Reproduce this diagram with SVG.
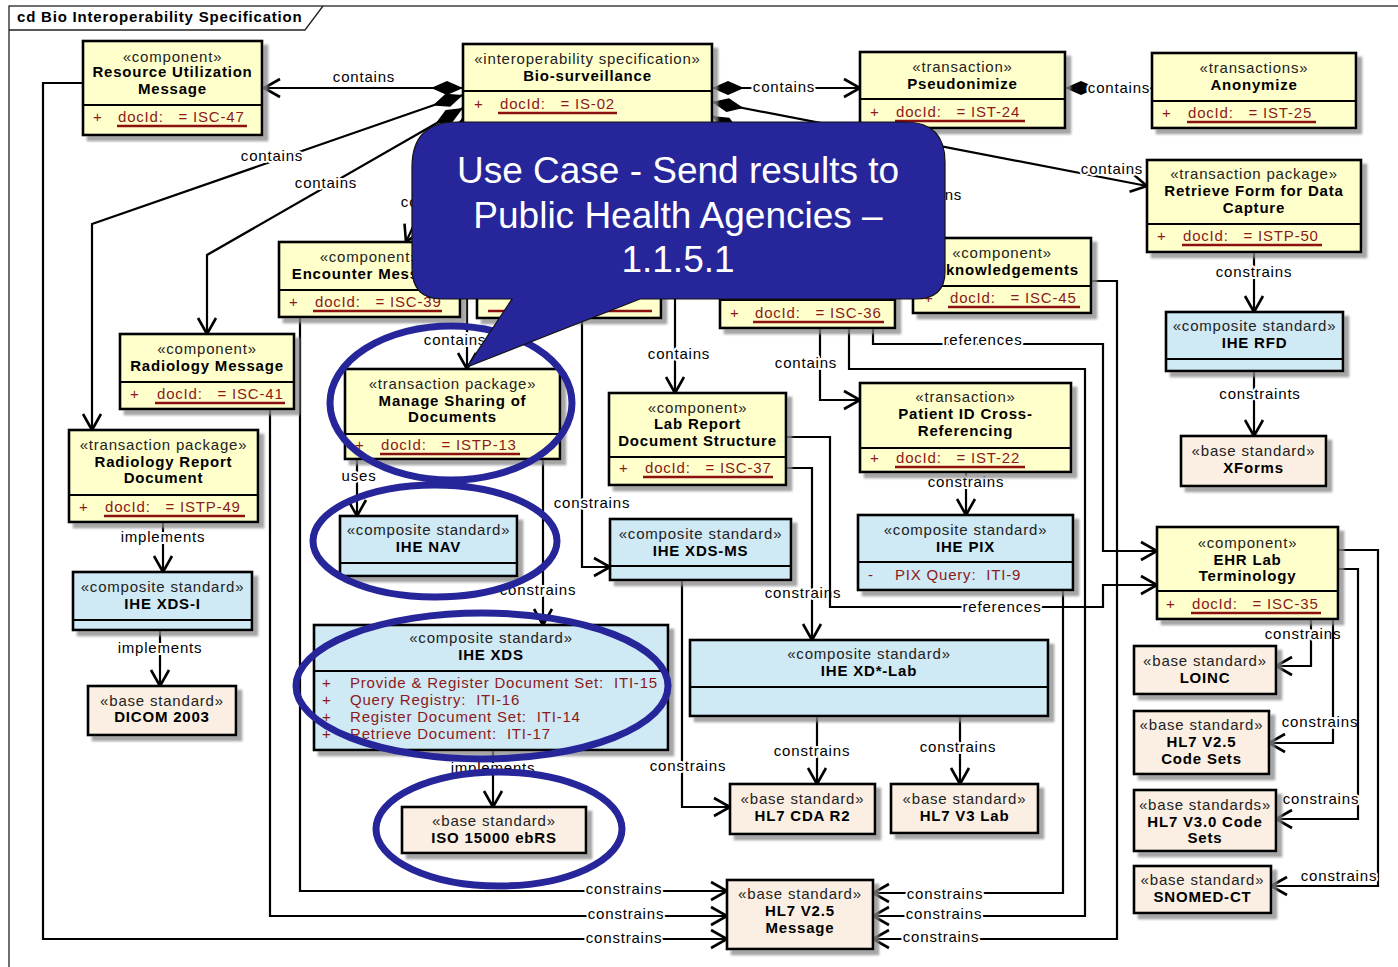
<svg xmlns="http://www.w3.org/2000/svg" width="1398" height="967" viewBox="0 0 1398 967">
  <style>
    text { font-family: "Liberation Sans", Arial, sans-serif; font-size: 15px; letter-spacing: 0.8px; }
    .box { stroke: #000; stroke-width: 2.6; filter: url(#sh); }
    .yel { fill: #ffffcc; }
    .blu { fill: #cfe9f5; }
    .bei { fill: #faefe2; }
    .dv { stroke: #000; stroke-width: 2.2; }
    .st { fill: #222; text-anchor: middle; }
    .nm { fill: #000; text-anchor: middle; font-weight: bold; }
    .at { fill: #8b1a1a; }
    .ul { stroke: #8b1010; stroke-width: 2.5; }
    .cn { fill: none; stroke: #000; stroke-width: 2.2; }
    .ar { marker-end: url(#arr); }
    .dm { marker-start: url(#dia); }
    .lb { fill: #000; text-anchor: middle; stroke: #fff; stroke-width: 4; paint-order: stroke; stroke-linejoin: round; }
    .ring { fill: none; stroke: #26269a; stroke-width: 7; }
    .callout { fill: #26269a; stroke: #111; stroke-width: 1.2; }
    .ct { fill: #fff; font-size: 37px; letter-spacing: 0; text-anchor: middle; }
  </style>
  <defs>
    <filter id="sh" x="-5%" y="-5%" width="120%" height="130%">
      <feDropShadow dx="5" dy="5" stdDeviation="1.2" flood-color="#888" flood-opacity="0.75"/>
    </filter>
    <marker id="arr" markerUnits="userSpaceOnUse" viewBox="-20 -12 24 24" markerWidth="24" markerHeight="24" refX="0" refY="0" orient="auto" overflow="visible">
      <path d="M-16,-9 L0,0 L-16,9" fill="none" stroke="#000" stroke-width="2.6"/>
    </marker>
    <marker id="dia" markerUnits="userSpaceOnUse" viewBox="-2 -10 40 20" markerWidth="40" markerHeight="20" refX="0" refY="0" orient="auto" overflow="visible">
      <path d="M0,0 L16,-7 L32,0 L16,7 Z" fill="#000"/>
    </marker>
  </defs>

  <rect width="1398" height="967" fill="#fff"/>

  <!-- diagram frame with its name tab -->
  <g id="frame">
    <rect x="9" y="6" width="1400" height="970" fill="none" stroke="#222" stroke-width="1.3"/>
    <path d="M9,30 H305 L323,6" fill="none" stroke="#222" stroke-width="1.3"/>
    <text x="17" y="22" style="font-weight:bold">cd Bio Interoperability Specification</text>
  </g>

  <!-- relationships -->
  <g id="connectors">
    <path class="cn dm ar" d="M463,88 H264"/>
    <text class="lb" x="364" y="82">contains</text>
    <path class="cn dm ar" d="M463,95 L92,224 V430"/>
    <text class="lb" x="272" y="161">contains</text>
    <path class="cn dm ar" d="M463,108 L207,255 V334"/>
    <text class="lb" x="326" y="188">contains</text>
    <path class="cn dm ar" d="M463,118 L406,242"/>
    <text class="lb" x="432" y="207">contains</text>

    <path class="cn dm ar" d="M712,88 H860"/>
    <text class="lb" x="784" y="92">contains</text>
    <path class="cn dm ar" d="M712,102 L1147,186"/>
    <text class="lb" x="1112" y="174">contains</text>
    <path class="cn dm ar" d="M712,116 L930,238"/>
    <text class="lb" x="931" y="200">contains</text>
    <path class="cn dm" d="M1065,88 H1152"/>
    <text class="lb" x="1119" y="93">contains</text>

    <path class="cn ar" d="M467,125 V369"/>
    <text class="lb" x="455" y="345">contains</text>
    <path class="cn ar" d="M675,125 V393"/>
    <text class="lb" x="679" y="359">contains</text>
    <path class="cn ar" d="M820,125 V400 H860"/>
    <text class="lb" x="806" y="368">contains</text>

    <path class="cn ar" d="M582,318 V567 H610"/>
    <text class="lb" x="592" y="508">constrains</text>
    <path class="cn ar" d="M357,459 V516"/>
    <text class="lb" x="359" y="481">uses</text>
    <path class="cn ar" d="M543,459 V625"/>
    <text class="lb" x="538" y="595">constrains</text>
    <path class="cn ar" d="M493,750 V807"/>
    <text class="lb" x="493" y="773">implements</text>
    <path class="cn ar" d="M163,522 V572"/>
    <text class="lb" x="163" y="542">implements</text>
    <path class="cn ar" d="M160,630 V686"/>
    <text class="lb" x="160" y="653">implements</text>
    <path class="cn ar" d="M682,580 V807 H730"/>
    <text class="lb" x="688" y="771">constrains</text>
    <path class="cn ar" d="M786,468 H812 V640"/>
    <text class="lb" x="803" y="598">constrains</text>
    <path class="cn ar" d="M786,437 H830 V607 H1103 V585 H1157"/>
    <text class="lb" x="1002" y="612">references</text>
    <path class="cn ar" d="M873,328 V344 H1103 V551 H1157"/>
    <text class="lb" x="983" y="345">references</text>
    <path class="cn ar" d="M849,328 V369 H1085 V916 H873"/>
    <text class="lb" x="944" y="919">constrains</text>
    <path class="cn ar" d="M1091,281 H1117 V939 H873"/>
    <text class="lb" x="941" y="942">constrains</text>
    <path class="cn ar" d="M1063,590 V893 H873"/>
    <text class="lb" x="945" y="899">constrains</text>
    <path class="cn ar" d="M966,472 V515"/>
    <text class="lb" x="966" y="487">constrains</text>
    <path class="cn ar" d="M817,716 V784"/>
    <text class="lb" x="812" y="756">constrains</text>
    <path class="cn ar" d="M960,716 V784"/>
    <text class="lb" x="958" y="752">constrains</text>
    <path class="cn ar" d="M1254,252 V312"/>
    <text class="lb" x="1254" y="277">constrains</text>
    <path class="cn ar" d="M1254,371 V436"/>
    <text class="lb" x="1260" y="399">constraints</text>
    <path class="cn ar" d="M1311,619 V666 H1276"/>
    <text class="lb" x="1303" y="639">constrains</text>
    <path class="cn ar" d="M1333,619 V743 H1269"/>
    <text class="lb" x="1320" y="727">constrains</text>
    <path class="cn ar" d="M1338,569 H1358 V819 H1276"/>
    <text class="lb" x="1321" y="804">constrains</text>
    <path class="cn ar" d="M1338,550 H1378 V886 H1271"/>
    <text class="lb" x="1339" y="881">constrains</text>
    <path class="cn ar" d="M83,83 H43 V939 H727"/>
    <text class="lb" x="624" y="943">constrains</text>
    <path class="cn ar" d="M270,409 V916 H727"/>
    <text class="lb" x="626" y="919">constrains</text>
    <path class="cn ar" d="M300,317 V891 H727"/>
    <text class="lb" x="624" y="894">constrains</text>
  </g>

  <!-- classifiers -->
  <g id="n-resource-utilization">
    <rect class="box yel" x="83" y="41" width="179" height="94"/>
    <line class="dv" x1="83" y1="105" x2="262" y2="105"/>
    <text class="st" x="172.5" y="62">«component»</text>
    <text class="nm" x="172.5" y="77">Resource Utilization</text>
    <text class="nm" x="172.5" y="94">Message</text>
    <text class="at" x="93" y="122">+</text>
    <text class="at" x="118" y="122" xml:space="preserve">docId:   = ISC-47</text>
    <line class="ul" x1="117" y1="126" x2="247" y2="126"/>
  </g>

  <g id="n-bio-surveillance">
    <rect class="box yel" x="463" y="44" width="249" height="82"/>
    <line class="dv" x1="463" y1="91" x2="712" y2="91"/>
    <text class="st" x="587.5" y="64">«interoperability specification»</text>
    <text class="nm" x="587.5" y="81">Bio-surveillance</text>
    <text class="at" x="474" y="109">+</text>
    <text class="at" x="500" y="109" xml:space="preserve">docId:   = IS-02</text>
    <line class="ul" x1="498" y1="113" x2="617" y2="113"/>
  </g>

  <g id="n-pseudonimize">
    <rect class="box yel" x="860" y="52" width="205" height="76"/>
    <line class="dv" x1="860" y1="99" x2="1065" y2="99"/>
    <text class="st" x="962.5" y="72">«transaction»</text>
    <text class="nm" x="962.5" y="89">Pseudonimize</text>
    <text class="at" x="870" y="117">+</text>
    <text class="at" x="896" y="117" xml:space="preserve">docId:   = IST-24</text>
    <line class="ul" x1="895" y1="121" x2="1025" y2="121"/>
  </g>

  <g id="n-anonymize">
    <rect class="box yel" x="1152" y="53" width="204" height="75"/>
    <line class="dv" x1="1152" y1="101" x2="1356" y2="101"/>
    <text class="st" x="1254" y="73">«transactions»</text>
    <text class="nm" x="1254" y="90">Anonymize</text>
    <text class="at" x="1162" y="118">+</text>
    <text class="at" x="1188" y="118" xml:space="preserve">docId:   = IST-25</text>
    <line class="ul" x1="1187" y1="122" x2="1316" y2="122"/>
  </g>

  <g id="n-retrieve-form">
    <rect class="box yel" x="1147" y="160" width="214" height="92"/>
    <line class="dv" x1="1147" y1="224" x2="1361" y2="224"/>
    <text class="st" x="1254" y="179">«transaction package»</text>
    <text class="nm" x="1254" y="196">Retrieve Form for Data</text>
    <text class="nm" x="1254" y="213">Capture</text>
    <text class="at" x="1157" y="241">+</text>
    <text class="at" x="1183" y="241" xml:space="preserve">docId:   = ISTP-50</text>
    <line class="ul" x1="1182" y1="245" x2="1322" y2="245"/>
  </g>

  <g id="n-ihe-rfd">
    <rect class="box blu" x="1166" y="312" width="177" height="59"/>
    <line class="dv" x1="1166" y1="359" x2="1343" y2="359"/>
    <text class="st" x="1254.5" y="331">«composite standard»</text>
    <text class="nm" x="1254.5" y="348">IHE RFD</text>
  </g>

  <g id="n-xforms">
    <rect class="box bei" x="1181" y="436" width="145" height="50"/>
    <text class="st" x="1253.5" y="456">«base standard»</text>
    <text class="nm" x="1253.5" y="473">XForms</text>
  </g>

  <g id="n-ehr-lab-terminology">
    <rect class="box yel" x="1157" y="527" width="181" height="92"/>
    <line class="dv" x1="1157" y1="591" x2="1338" y2="591"/>
    <text class="st" x="1247.5" y="548">«component»</text>
    <text class="nm" x="1247.5" y="565">EHR Lab</text>
    <text class="nm" x="1247.5" y="581">Terminology</text>
    <text class="at" x="1166" y="609">+</text>
    <text class="at" x="1192" y="609" xml:space="preserve">docId:   = ISC-35</text>
    <line class="ul" x1="1191" y1="613" x2="1321" y2="613"/>
  </g>

  <g id="n-loinc">
    <rect class="box bei" x="1134" y="646" width="142" height="48"/>
    <text class="st" x="1205" y="666">«base standard»</text>
    <text class="nm" x="1205" y="683">LOINC</text>
  </g>

  <g id="n-hl7-v25-code-sets">
    <rect class="box bei" x="1134" y="711" width="135" height="63"/>
    <text class="st" x="1201.5" y="730">«base standard»</text>
    <text class="nm" x="1201.5" y="747">HL7 V2.5</text>
    <text class="nm" x="1201.5" y="764">Code Sets</text>
  </g>

  <g id="n-hl7-v30-code-sets">
    <rect class="box bei" x="1134" y="790" width="142" height="61"/>
    <text class="st" x="1205" y="810">«base standards»</text>
    <text class="nm" x="1205" y="827">HL7 V3.0 Code</text>
    <text class="nm" x="1205" y="843">Sets</text>
  </g>

  <g id="n-snomed-ct">
    <rect class="box bei" x="1134" y="866" width="137" height="47"/>
    <text class="st" x="1202.5" y="885">«base standard»</text>
    <text class="nm" x="1202.5" y="902">SNOMED-CT</text>
  </g>

  <g id="n-acknowledgements">
    <rect class="box yel" x="913" y="238" width="178" height="75"/>
    <line class="dv" x1="913" y1="286" x2="1091" y2="286"/>
    <text class="st" x="1002" y="258">«component»</text>
    <text class="nm" x="1002" y="275">Acknowledgements</text>
    <text class="at" x="924" y="303">+</text>
    <text class="at" x="950" y="303" xml:space="preserve">docId:   = ISC-45</text>
    <line class="ul" x1="948" y1="307" x2="1080" y2="307"/>
  </g>

  <g id="n-encounter-message">
    <rect class="box yel" x="279" y="242" width="181" height="75"/>
    <line class="dv" x1="279" y1="290" x2="460" y2="290"/>
    <text class="st" x="369.5" y="262">«component»</text>
    <text class="nm" x="369.5" y="279">Encounter Message</text>
    <text class="at" x="289" y="307">+</text>
    <text class="at" x="315" y="307" xml:space="preserve">docId:   = ISC-39</text>
    <line class="ul" x1="313" y1="311" x2="442" y2="311"/>
  </g>

  <g id="n-component-a">
    <rect class="box yel" x="477" y="242" width="184" height="76"/>
    <line class="dv" x1="477" y1="290" x2="661" y2="290"/>
    <line class="ul" x1="488" y1="311" x2="652" y2="311"/>
  </g>

  <g id="n-component-b">
    <rect class="box yel" x="720" y="250" width="175" height="78"/>
    <line class="dv" x1="720" y1="300" x2="895" y2="300"/>
    <text class="at" x="730" y="318">+</text>
    <text class="at" x="755" y="318" xml:space="preserve">docId:   = ISC-36</text>
    <line class="ul" x1="753" y1="322" x2="884" y2="322"/>
  </g>

  <g id="n-radiology-message">
    <rect class="box yel" x="120" y="334" width="174" height="75"/>
    <line class="dv" x1="120" y1="382" x2="294" y2="382"/>
    <text class="st" x="207" y="354">«component»</text>
    <text class="nm" x="207" y="371">Radiology Message</text>
    <text class="at" x="130" y="399">+</text>
    <text class="at" x="157" y="399" xml:space="preserve">docId:   = ISC-41</text>
    <line class="ul" x1="155" y1="403" x2="285" y2="403"/>
  </g>

  <g id="n-radiology-report">
    <rect class="box yel" x="69" y="430" width="189" height="92"/>
    <line class="dv" x1="69" y1="495" x2="258" y2="495"/>
    <text class="st" x="163.5" y="450">«transaction package»</text>
    <text class="nm" x="163.5" y="467">Radiology Report</text>
    <text class="nm" x="163.5" y="483">Document</text>
    <text class="at" x="79" y="512">+</text>
    <text class="at" x="105" y="512" xml:space="preserve">docId:   = ISTP-49</text>
    <line class="ul" x1="104" y1="516" x2="245" y2="516"/>
  </g>

  <g id="n-ihe-xds-i">
    <rect class="box blu" x="73" y="572" width="179" height="58"/>
    <line class="dv" x1="73" y1="620" x2="252" y2="620"/>
    <text class="st" x="162.5" y="592">«composite standard»</text>
    <text class="nm" x="162.5" y="609">IHE XDS-I</text>
  </g>

  <g id="n-dicom-2003">
    <rect class="box bei" x="88" y="686" width="148" height="49"/>
    <text class="st" x="162" y="706">«base standard»</text>
    <text class="nm" x="162" y="722">DICOM 2003</text>
  </g>

  <g id="n-manage-sharing">
    <rect class="box yel" x="345" y="369" width="215" height="90"/>
    <line class="dv" x1="345" y1="434" x2="560" y2="434"/>
    <text class="st" x="452.5" y="389">«transaction package»</text>
    <text class="nm" x="452.5" y="406">Manage Sharing of</text>
    <text class="nm" x="452.5" y="422">Documents</text>
    <text class="at" x="355" y="450">+</text>
    <text class="at" x="381" y="450" xml:space="preserve">docId:   = ISTP-13</text>
    <line class="ul" x1="380" y1="454" x2="520" y2="454"/>
  </g>

  <g id="n-ihe-nav">
    <rect class="box blu" x="340" y="516" width="177" height="60"/>
    <line class="dv" x1="340" y1="563" x2="517" y2="563"/>
    <text class="st" x="428.5" y="535">«composite standard»</text>
    <text class="nm" x="428.5" y="552">IHE NAV</text>
  </g>

  <g id="n-ihe-xds">
    <rect class="box blu" x="314" y="625" width="354" height="125"/>
    <line class="dv" x1="314" y1="671" x2="668" y2="671"/>
    <text class="st" x="491" y="643">«composite standard»</text>
    <text class="nm" x="491" y="660">IHE XDS</text>
    <text class="at" x="322" y="688">+</text>
    <text class="at" x="350" y="688" xml:space="preserve">Provide &amp; Register Document Set:  ITI-15</text>
    <text class="at" x="322" y="705">+</text>
    <text class="at" x="350" y="705" xml:space="preserve">Query Registry:  ITI-16</text>
    <text class="at" x="322" y="722">+</text>
    <text class="at" x="350" y="722" xml:space="preserve">Register Document Set:  ITI-14</text>
    <text class="at" x="322" y="739">+</text>
    <text class="at" x="350" y="739" xml:space="preserve">Retrieve Document:  ITI-17</text>
  </g>

  <g id="n-iso-15000">
    <rect class="box bei" x="402" y="807" width="184" height="46"/>
    <text class="st" x="494" y="826">«base standard»</text>
    <text class="nm" x="494" y="843">ISO 15000 ebRS</text>
  </g>

  <g id="n-lab-report">
    <rect class="box yel" x="609" y="393" width="177" height="92"/>
    <line class="dv" x1="609" y1="457" x2="786" y2="457"/>
    <text class="st" x="697.5" y="413">«component»</text>
    <text class="nm" x="697.5" y="429">Lab Report</text>
    <text class="nm" x="697.5" y="446">Document Structure</text>
    <text class="at" x="619" y="473">+</text>
    <text class="at" x="645" y="473" xml:space="preserve">docId:   = ISC-37</text>
    <line class="ul" x1="643" y1="477" x2="773" y2="477"/>
  </g>

  <g id="n-ihe-xds-ms">
    <rect class="box blu" x="610" y="519" width="181" height="61"/>
    <line class="dv" x1="610" y1="566" x2="791" y2="566"/>
    <text class="st" x="700.5" y="539">«composite standard»</text>
    <text class="nm" x="700.5" y="556">IHE XDS-MS</text>
  </g>

  <g id="n-patient-id-xref">
    <rect class="box yel" x="860" y="383" width="211" height="89"/>
    <line class="dv" x1="860" y1="448" x2="1071" y2="448"/>
    <text class="st" x="965.5" y="402">«transaction»</text>
    <text class="nm" x="965.5" y="419">Patient ID Cross-</text>
    <text class="nm" x="965.5" y="436">Referencing</text>
    <text class="at" x="870" y="463">+</text>
    <text class="at" x="896" y="463" xml:space="preserve">docId:   = IST-22</text>
    <line class="ul" x1="895" y1="467" x2="1025" y2="467"/>
  </g>

  <g id="n-ihe-pix">
    <rect class="box blu" x="858" y="515" width="215" height="75"/>
    <line class="dv" x1="858" y1="562" x2="1073" y2="562"/>
    <text class="st" x="965.5" y="535">«composite standard»</text>
    <text class="nm" x="965.5" y="552">IHE PIX</text>
    <text class="at" x="868" y="580">-</text>
    <text class="at" x="895" y="580" xml:space="preserve">PIX Query:  ITI-9</text>
  </g>

  <g id="n-ihe-xd-lab">
    <rect class="box blu" x="690" y="640" width="358" height="76"/>
    <line class="dv" x1="690" y1="687" x2="1048" y2="687"/>
    <text class="st" x="869" y="659">«composite standard»</text>
    <text class="nm" x="869" y="676">IHE XD*-Lab</text>
  </g>

  <g id="n-hl7-cda-r2">
    <rect class="box bei" x="730" y="784" width="145" height="50"/>
    <text class="st" x="802.5" y="804">«base standard»</text>
    <text class="nm" x="802.5" y="821">HL7 CDA R2</text>
  </g>

  <g id="n-hl7-v3-lab">
    <rect class="box bei" x="891" y="784" width="147" height="49"/>
    <text class="st" x="964.5" y="804">«base standard»</text>
    <text class="nm" x="964.5" y="821">HL7 V3 Lab</text>
  </g>

  <g id="n-hl7-v25-message">
    <rect class="box bei" x="727" y="880" width="146" height="69"/>
    <text class="st" x="800" y="899">«base standard»</text>
    <text class="nm" x="800" y="916">HL7 V2.5</text>
    <text class="nm" x="800" y="933">Message</text>
  </g>

  <!-- highlight rings and use-case callout -->
  <g id="highlights">
    <ellipse class="ring" cx="451" cy="403" rx="121" ry="77"/>
    <ellipse class="ring" cx="435" cy="541" rx="122" ry="56"/>
    <ellipse class="ring" cx="482" cy="686" rx="186" ry="73"/>
    <ellipse class="ring" cx="499" cy="829" rx="123" ry="57"/>
  </g>

  <g id="use-case-callout">
    <path class="callout" d="M457,122 H905 Q945,122 945,162 V272 Q945,299 915,299 H640 L467,367 L512,299 H442 Q412,299 412,268 V167 Q412,122 457,122 Z"/>
    <text class="ct" x="678" y="183">Use Case - Send results to</text>
    <text class="ct" x="678" y="228">Public Health Agencies –</text>
    <text class="ct" x="678" y="272">1.1.5.1</text>
  </g>
</svg>
